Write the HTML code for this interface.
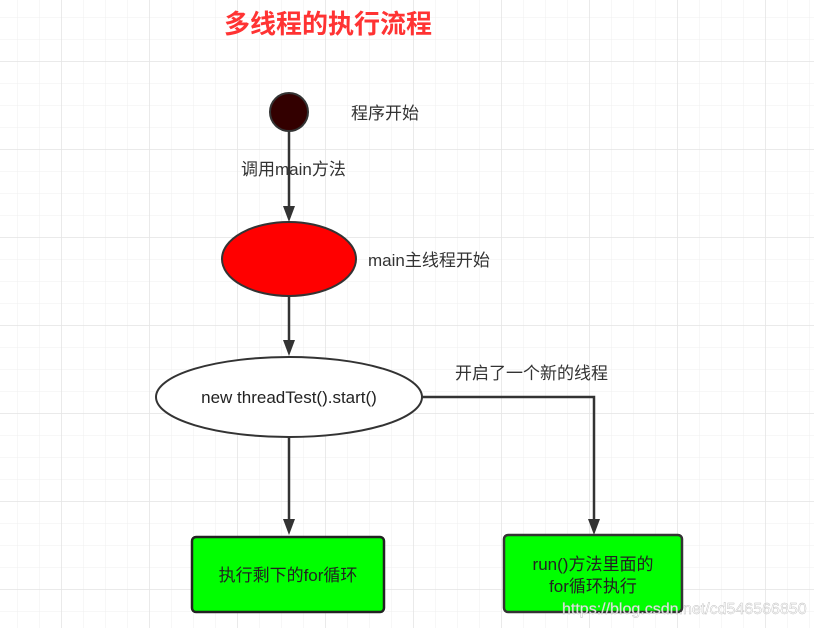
<!DOCTYPE html>
<html><head><meta charset="utf-8"><style>
html,body{margin:0;padding:0;background:#fff;}
svg{display:block;}
text{font-family:"Liberation Sans","Noto Sans CJK SC",sans-serif;}
</style></head><body>
<svg width="814" height="628" viewBox="0 0 814 628" xmlns="http://www.w3.org/2000/svg">
<defs>
<pattern id="minor" width="22" height="22" patternUnits="userSpaceOnUse" x="-4" y="-4">
<path d="M22 0V22M0 22H22" fill="none" stroke="#efefef" stroke-width="1"/>
</pattern>
<pattern id="major" width="88" height="88" patternUnits="userSpaceOnUse" x="-26" y="-26">
<path d="M88 0V88M0 88H88" fill="none" stroke="#e4e4e4" stroke-width="1.5"/>
</pattern>
<marker id="ar" markerWidth="10" markerHeight="12" refX="5" refY="12" orient="auto" markerUnits="userSpaceOnUse" viewBox="0 0 10 12">
</marker>
</defs>
<rect width="814" height="628" fill="url(#minor)"/>
<rect width="814" height="628" fill="url(#major)"/>
<text x="328" y="33" font-size="26" font-weight="bold" fill="#ff3333" text-anchor="middle">多线程的执行流程</text>
<circle cx="289" cy="112" r="19" fill="#330000" stroke="#333" stroke-width="2"/>
<text x="351" y="119" font-size="17" fill="#333">程序开始</text>
<line x1="289" y1="131" x2="289" y2="208" stroke="#333" stroke-width="2.5"/>
<polygon points="283,206 295,206 289,222" fill="#333"/>
<text x="241" y="175" font-size="17" fill="#333">调用main方法</text>
<ellipse cx="289" cy="259" rx="67" ry="37" fill="#ff0000" stroke="#333" stroke-width="2"/>
<text x="368" y="266" font-size="17" fill="#333">main主线程开始</text>
<line x1="289" y1="296" x2="289" y2="342" stroke="#333" stroke-width="2.5"/>
<polygon points="283,340 295,340 289,356" fill="#333"/>
<ellipse cx="289" cy="397" rx="133" ry="40" fill="#fff" stroke="#333" stroke-width="2"/>
<text x="289" y="403" font-size="17" fill="#222" text-anchor="middle">new threadTest().start()</text>
<line x1="289" y1="437" x2="289" y2="521" stroke="#333" stroke-width="2.5"/>
<polygon points="283,519 295,519 289,535" fill="#333"/>
<polyline points="422,397 594,397 594,521" fill="none" stroke="#333" stroke-width="2.5"/>
<polygon points="588,519 600,519 594,535" fill="#333"/>
<text x="455" y="379" font-size="17" fill="#333">开启了一个新的线程</text>
<rect x="192" y="537" width="192" height="75" rx="4" fill="#00ff00" stroke="#222" stroke-width="2.5"/>
<text x="288" y="581" font-size="17" fill="#222" text-anchor="middle">执行剩下的for循环</text>
<rect x="504" y="535" width="178" height="77" rx="4" fill="#00ff00" stroke="#333" stroke-width="2.5"/>
<text x="593" y="570" font-size="17" fill="#222" text-anchor="middle">run()方法里面的</text>
<text x="593" y="592" font-size="17" fill="#222" text-anchor="middle">for循环执行</text>
<text x="562" y="614" font-size="16" fill="#ffffff" fill-opacity="0.85" stroke="#bbb" stroke-width="0.4">https://blog.csdn.net/cd546566850</text>
</svg>
</body></html>
